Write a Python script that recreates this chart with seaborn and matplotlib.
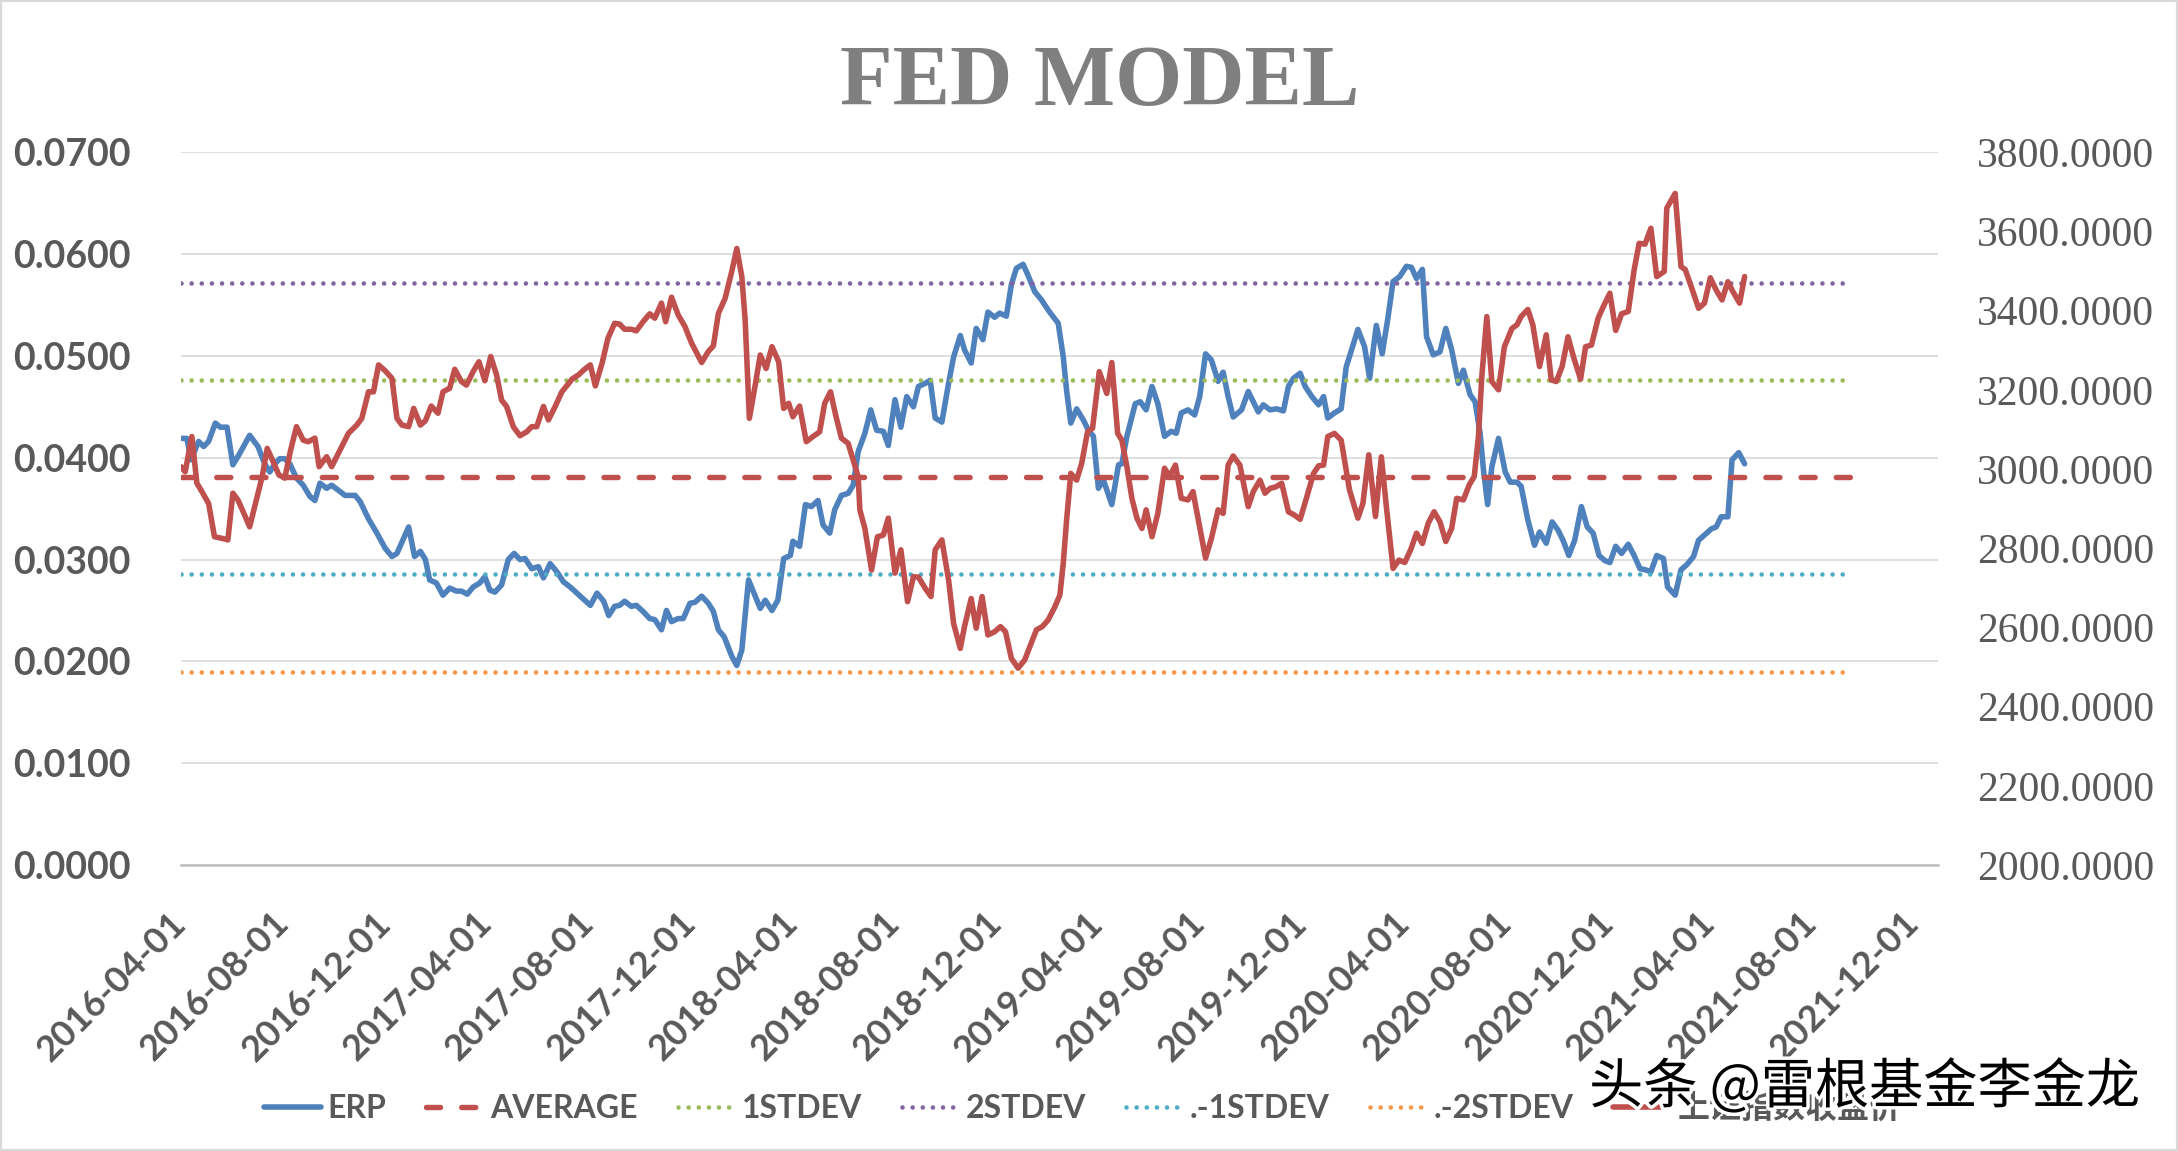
import pandas as pd
import seaborn as sns
import matplotlib.pyplot as plt
import matplotlib.patheffects as pe
from matplotlib.patches import Rectangle

sns.set_theme(style="white")
plt.rcParams['font.family'] = ['Lato', 'Noto Sans CJK SC', 'DejaVu Sans']

START = "2016-04-01"

# ERP series: days after START, value
ERP_DAYS = [0, 7, 12, 21, 27, 33, 41, 47, 55, 62, 70, 82, 92, 100, 106, 112, 118, 124, 130, 138,
            146, 154, 160, 166, 174, 180, 188, 196, 208, 214, 224, 234, 244, 252, 258, 266, 272, 279, 286, 292,
            297, 305, 313, 321, 329, 335, 342, 349, 357, 363, 369, 375, 383, 391, 398, 405, 411, 419, 427, 433,
            441, 449, 457, 465, 477, 489, 497, 505, 511, 518, 524, 530, 538, 544, 552, 560, 566, 574, 580, 586,
            594, 600, 608, 614, 622, 630, 636, 642, 649, 658, 664, 670, 678, 684, 692, 698, 706, 713, 720, 728,
            731, 739, 746, 753, 761, 767, 775, 781, 789, 797, 803, 809, 817, 824, 831, 839, 845, 853, 860, 867,
            875, 881, 889, 895, 901, 909, 917, 923, 931, 936, 944, 950, 958, 964, 972, 978, 986, 992, 998, 1006,
            1012, 1020, 1028, 1036, 1048, 1054, 1058, 1063, 1070, 1078, 1084, 1090, 1096, 1102, 1112, 1120, 1124, 1130, 1140, 1146,
            1153, 1160, 1167, 1175, 1183, 1189, 1195, 1203, 1211, 1217, 1224, 1231, 1239, 1245, 1251, 1257, 1267, 1275, 1281, 1287,
            1293, 1301, 1309, 1317, 1323, 1329, 1337, 1343, 1351, 1359, 1365, 1370, 1378, 1386, 1392, 1406, 1414, 1420, 1428, 1435,
            1442, 1448, 1456, 1464, 1470, 1476, 1483, 1488, 1496, 1504, 1511, 1518, 1526, 1532, 1540, 1546, 1552, 1556, 1561, 1566,
            1574, 1582, 1588, 1596, 1601, 1609, 1617, 1623, 1631, 1638, 1645, 1651, 1658, 1665, 1673, 1680, 1687, 1694, 1701, 1707,
            1714, 1721, 1729, 1736, 1743, 1749, 1756, 1763, 1771, 1776, 1785, 1792, 1799, 1807, 1813, 1820, 1828, 1834, 1840, 1848,
            1853, 1861, 1868]
ERP = [0.0419, 0.0419, 0.0398, 0.0416, 0.0411, 0.0416, 0.0434, 0.0430, 0.0430, 0.0393, 0.0404, 0.0422, 0.0411, 0.0394, 0.0386, 0.0394, 0.0399, 0.0399, 0.0394, 0.0380,
       0.0373, 0.0362, 0.0358, 0.0375, 0.0370, 0.0373, 0.0368, 0.0363, 0.0363, 0.0357, 0.0340, 0.0326, 0.0311, 0.0303, 0.0306, 0.0321, 0.0332, 0.0303, 0.0308, 0.0300,
       0.0280, 0.0277, 0.0265, 0.0272, 0.0269, 0.0269, 0.0266, 0.0273, 0.0277, 0.0283, 0.0270, 0.0268, 0.0275, 0.0300, 0.0306, 0.0300, 0.0301, 0.0291, 0.0293, 0.0282,
       0.0296, 0.0288, 0.0278, 0.0273, 0.0264, 0.0255, 0.0267, 0.0259, 0.0245, 0.0254, 0.0255, 0.0259, 0.0254, 0.0255, 0.0249, 0.0242, 0.0241, 0.0231, 0.0250, 0.0239,
       0.0242, 0.0242, 0.0257, 0.0258, 0.0264, 0.0257, 0.0249, 0.0231, 0.0224, 0.0205, 0.0196, 0.0211, 0.0280, 0.0268, 0.0252, 0.0260, 0.0250, 0.0260, 0.0301, 0.0304,
       0.0318, 0.0313, 0.0354, 0.0352, 0.0358, 0.0334, 0.0326, 0.0349, 0.0363, 0.0365, 0.0373, 0.0406, 0.0424, 0.0447, 0.0427, 0.0426, 0.0412, 0.0457, 0.0430, 0.0460,
       0.0450, 0.0470, 0.0473, 0.0476, 0.0439, 0.0435, 0.0473, 0.0499, 0.0520, 0.0506, 0.0493, 0.0527, 0.0516, 0.0543, 0.0538, 0.0542, 0.0539, 0.0570, 0.0586, 0.0590,
       0.0579, 0.0563, 0.0555, 0.0545, 0.0532, 0.0499, 0.0466, 0.0434, 0.0448, 0.0437, 0.0427, 0.0421, 0.0370, 0.0378, 0.0354, 0.0393, 0.0394, 0.0421, 0.0453, 0.0455,
       0.0447, 0.0470, 0.0453, 0.0421, 0.0426, 0.0424, 0.0444, 0.0447, 0.0442, 0.0460, 0.0502, 0.0496, 0.0475, 0.0484, 0.0460, 0.0440, 0.0447, 0.0465, 0.0455, 0.0445,
       0.0452, 0.0447, 0.0448, 0.0446, 0.0470, 0.0478, 0.0483, 0.0470, 0.0460, 0.0452, 0.0460, 0.0439, 0.0444, 0.0448, 0.0489, 0.0526, 0.0509, 0.0478, 0.0530, 0.0502,
       0.0538, 0.0573, 0.0578, 0.0588, 0.0587, 0.0576, 0.0585, 0.0519, 0.0501, 0.0504, 0.0527, 0.0506, 0.0473, 0.0486, 0.0462, 0.0455, 0.0424, 0.0388, 0.0354, 0.0391,
       0.0419, 0.0386, 0.0376, 0.0376, 0.0372, 0.0339, 0.0314, 0.0327, 0.0316, 0.0337, 0.0329, 0.0319, 0.0304, 0.0319, 0.0352, 0.0332, 0.0326, 0.0304, 0.0299, 0.0297,
       0.0313, 0.0306, 0.0315, 0.0304, 0.0291, 0.0290, 0.0288, 0.0304, 0.0301, 0.0273, 0.0265, 0.0290, 0.0295, 0.0303, 0.0319, 0.0324, 0.0330, 0.0332, 0.0342, 0.0342,
       0.0398, 0.0405, 0.0394]

# Shanghai composite close: days after START, value
SH_DAYS = [0, 5, 13, 19, 25, 33, 40, 49, 56, 62, 68, 76, 82, 90, 97, 103, 110, 117, 124, 131,
           138, 146, 152, 160, 165, 174, 180, 190, 200, 210, 216, 224, 230, 236, 244, 252, 258, 264, 272, 278,
           286, 292, 299, 307, 313, 321, 327, 335, 341, 349, 356, 363, 370, 377, 383, 389, 397, 405, 413, 419,
           425, 433, 439, 447, 455, 465, 467, 475, 481, 489, 495, 503, 510, 518, 524, 530, 538, 544, 552, 560,
           566, 574, 579, 586, 594, 602, 610, 622, 630, 636, 642, 650, 658, 664, 670, 674, 679, 686, 692, 699,
           706, 714, 720, 726, 731, 739, 747, 755, 763, 769, 776, 782, 789, 797, 803, 809, 811, 817, 825, 832,
           839, 845, 853, 860, 868, 875, 881, 889, 896, 901, 909, 917, 923, 931, 936, 944, 950, 957, 964, 972,
           979, 985, 992, 1000, 1008, 1014, 1022, 1029, 1036, 1044, 1050, 1054, 1058, 1063, 1070, 1076, 1083, 1089, 1097, 1106,
           1112, 1119, 1124, 1130, 1136, 1142, 1148, 1153, 1160, 1167, 1175, 1181, 1188, 1195, 1203, 1209, 1217, 1224, 1231, 1239,
           1245, 1251, 1257, 1265, 1275, 1281, 1289, 1295, 1301, 1308, 1315, 1323, 1330, 1337, 1345, 1353, 1359, 1365, 1370, 1378,
           1386, 1392, 1396, 1406, 1412, 1419, 1427, 1434, 1440, 1448, 1455, 1462, 1469, 1476, 1483, 1490, 1497, 1504, 1511, 1518,
           1524, 1532, 1539, 1545, 1550, 1554, 1560, 1566, 1574, 1581, 1590, 1596, 1601, 1609, 1615, 1623, 1631, 1637, 1643, 1650,
           1657, 1664, 1672, 1678, 1685, 1693, 1700, 1707, 1714, 1721, 1729, 1736, 1742, 1749, 1756, 1763, 1772, 1775, 1785, 1792,
           1797, 1805, 1813, 1820, 1827, 1834, 1841, 1848, 1854, 1862, 1868]
SH_CLOSE = [3006, 2993, 3082, 2964, 2943, 2913, 2829, 2825, 2821, 2939, 2922, 2884, 2854, 2922, 2981, 3052, 3019, 2985, 2977, 3048,
            3107, 3073, 3069, 3078, 3006, 3031, 3006, 3048, 3090, 3111, 3128, 3195, 3195, 3263, 3248, 3229, 3128, 3111, 3107, 3153,
            3111, 3122, 3159, 3141, 3195, 3204, 3252, 3221, 3212, 3246, 3271, 3223, 3284, 3238, 3174, 3158, 3107, 3084, 3094, 3107,
            3107, 3158, 3124, 3158, 3195, 3221, 3227, 3238, 3250, 3263, 3210, 3267, 3330, 3368, 3366, 3353, 3353, 3349, 3372, 3392,
            3381, 3419, 3372, 3434, 3389, 3360, 3318, 3269, 3297, 3311, 3393, 3431, 3499, 3557, 3486, 3376, 3128, 3212, 3288, 3254,
            3309, 3271, 3153, 3166, 3132, 3159, 3069, 3082, 3094, 3166, 3195, 3137, 3078, 3065, 3023, 2981, 2897, 2850, 2745, 2829,
            2833, 2876, 2737, 2796, 2665, 2728, 2727, 2699, 2678, 2796, 2821, 2720, 2610, 2547, 2602, 2673, 2598, 2678, 2581, 2589,
            2602, 2589, 2522, 2497, 2518, 2551, 2594, 2602, 2619, 2652, 2682, 2762, 2871, 2989, 2972, 3014, 3094, 3103, 3246, 3191,
            3269, 3090, 3073, 3006, 2926, 2876, 2850, 2897, 2829, 2888, 3002, 2981, 3010, 2926, 2922, 2943, 2854, 2775, 2825, 2897,
            2888, 3010, 3033, 3010, 2905, 2943, 2972, 2939, 2951, 2955, 2964, 2892, 2884, 2873, 2930, 2989, 3008, 3010, 3082, 3090,
            3073, 2998, 2947, 2876, 2913, 3036, 2880, 3031, 2905, 2749, 2770, 2764, 2796, 2838, 2812, 2863, 2892, 2867, 2817, 2850,
            2926, 2922, 2960, 2981, 3082, 3233, 3385, 3221, 3200, 3309, 3355, 3364, 3385, 3403, 3364, 3259, 3339, 3225, 3221, 3259,
            3334, 3280, 3227, 3309, 3313, 3381, 3414, 3444, 3350, 3392, 3398, 3503, 3570, 3568, 3608, 3486, 3499, 3659, 3696, 3511,
            3504, 3456, 3406, 3419, 3483, 3452, 3427, 3473, 3448, 3419, 3486]

REF_DAYS = [0, 1995]
REF_NAMES = ["AVERAGE", "1STDEV", "2STDEV", ".-1STDEV", ".-2STDEV"]
REF_LEVELS = [0.0381, 0.0476, 0.0572, 0.0286, 0.0190]
REF_COLORS = ["#c0504d", "#9bbb59", "#8064a2", "#4bacc6", "#f79646"]

TICK_DATES = ["2016-04-01", "2016-08-01", "2016-12-01", "2017-04-01", "2017-08-01", "2017-12-01",
              "2018-04-01", "2018-08-01", "2018-12-01", "2019-04-01", "2019-08-01", "2019-12-01",
              "2020-04-01", "2020-08-01", "2020-12-01", "2021-04-01", "2021-08-01", "2021-12-01"]
LEFT_TICKS = [0.0, 0.01, 0.02, 0.03, 0.04, 0.05, 0.06, 0.07]
RIGHT_TICKS = [2000, 2200, 2400, 2600, 2800, 3000, 3200, 3400, 3600, 3800]

start = pd.Timestamp(START)
erp_df = pd.DataFrame({"date": start + pd.to_timedelta(ERP_DAYS, unit="D"), "ERP": ERP})
sh_df = pd.DataFrame({"date": start + pd.to_timedelta(SH_DAYS, unit="D"), "close": SH_CLOSE})
ref_dates = start + pd.to_timedelta(REF_DAYS, unit="D")

fig = plt.figure(figsize=(21.78, 11.51), dpi=100)
ax = fig.add_axes([0.0831, 0.2485, 0.8067, 0.6192])
ax2 = ax.twinx()

grey = "#595959"
sns.lineplot(data=erp_df, x="date", y="ERP", ax=ax, color="#4f81bd", lw=4.0,
             estimator=None, label="ERP", zorder=3)
for name, lvl, col in zip(REF_NAMES, REF_LEVELS, REF_COLORS):
    if name == "AVERAGE":
        ls, lw = (0, (2.6, 3.9)), 3.9
    else:
        ls, lw = (0, (0.01, 2.2)), 3.3
    sns.lineplot(x=ref_dates, y=[lvl, lvl], ax=ax, color=col, lw=lw, linestyle=ls,
                 dash_capstyle="round", estimator=None, label=name, zorder=4)
sns.lineplot(data=sh_df, x="date", y="close", ax=ax2, color="#c0504d", lw=4.0,
             estimator=None, label="上证指数收盘价")

for a in (ax, ax2):
    if a.get_legend() is not None:
        a.get_legend().remove()
    for s in a.spines.values():
        s.set_visible(False)
    a.set_xlabel("")
    a.set_ylabel("")
    a.patch.set_visible(False)

ax.set_ylim(0, 0.07)
ax2.set_ylim(2000, 3800)
ax.set_xlim(start, start + pd.Timedelta(days=2099))
ax.grid(axis="y", color="#d9d9d9", lw=1.2)
ax.grid(axis="x", visible=False)
ax2.grid(False)
ax.set_axisbelow(True)
ax.spines["bottom"].set_visible(True)
ax.spines["bottom"].set_color("#bfbfbf")
ax.spines["bottom"].set_linewidth(1.8)

ax.set_yticks(LEFT_TICKS, labels=[f"{v:.4f}" for v in LEFT_TICKS], fontweight="bold")
ax.tick_params(axis="y", length=0, pad=36, labelsize=27, labelcolor=grey)
ax2.set_yticks(RIGHT_TICKS, labels=[f"{v:.4f}" for v in RIGHT_TICKS], family="Liberation Serif")
ax2.tick_params(axis="y", length=0, pad=28, labelsize=30, labelcolor=grey)

tick_dates = pd.to_datetime(TICK_DATES)
ax.set_xticks(tick_dates, labels=TICK_DATES, fontweight="bold", rotation=45,
              ha="right", va="center", rotation_mode="anchor")
ax.tick_params(axis="x", length=0, pad=38, labelsize=26, labelcolor=grey)

fig.text(0.505, 0.909, "FED MODEL", family="Liberation Serif", fontweight="bold",
         fontsize=62, color="#7f7f7f", ha="center", va="baseline")

h1, l1 = ax.get_legend_handles_labels()
h2, l2 = ax2.get_legend_handles_labels()
fig.legend(h1 + h2, l1 + l2, loc="center", bbox_to_anchor=(0.497, 0.038), ncol=7,
           frameon=False, handlelength=1.8, handletextpad=0.2,
           columnspacing=1.25, prop={"weight": "bold", "size": 23}, labelcolor=grey)

fig.text(0.856, 0.055, "头条 @雷根基金李金龙", family=["Noto Sans CJK SC", "DejaVu Sans"],
         fontsize=39, color="black", ha="center", va="center", zorder=10,
         path_effects=[pe.withStroke(linewidth=5, foreground="white")])

fig.patches.append(Rectangle((0, 0), 1, 1, transform=fig.transFigure, fill=False,
                             edgecolor="#d9d9d9", lw=3))

plt.savefig("out.png", dpi=100)
